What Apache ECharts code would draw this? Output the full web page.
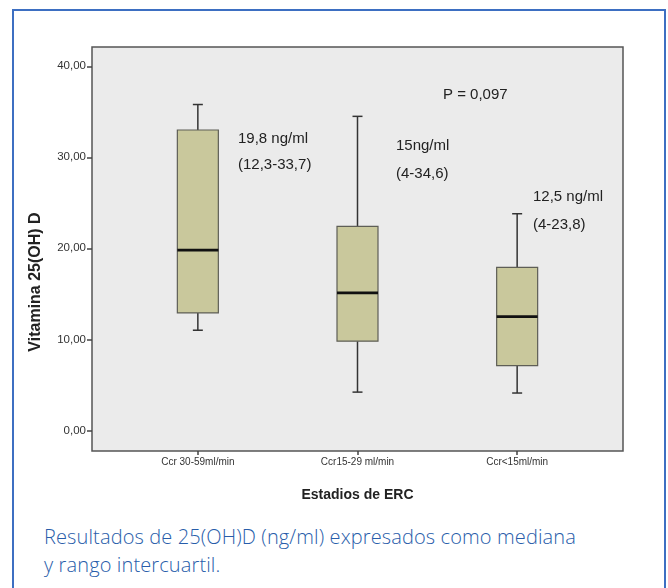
<!DOCTYPE html>
<html>
<head>
<meta charset="utf-8">
<script src="https://cdn.jsdelivr.net/npm/echarts@6/dist/echarts.min.js"></script>
<style>
html,body{margin:0;padding:0;background:#fff;}
#frame{position:absolute;left:12px;top:9px;width:654px;height:600px;border:2px solid #3d6fc2;border-bottom:none;box-sizing:border-box;}
#chart{position:absolute;left:0;top:0;width:668px;height:510px;}
#caption{position:absolute;left:44px;top:523px;font-family:"Open Sans",sans-serif;font-weight:300;font-size:20px;letter-spacing:0.12px;line-height:28px;color:#285daa;}
</style>
</head>
<body>
<div id="frame"></div>
<div id="chart"></div>
<div id="caption">Resultados de 25(OH)D (ng/ml) expresados como mediana<br>y rango intercuartil.</div>
<script>
const categories = ['Ccr 30-59ml/min', 'Ccr15-29 ml/min', 'Ccr<15ml/min'];
const whiskerLow = [11.0, 4.2, 4.1];
const q1 = [12.9, 9.8, 7.1];
const median = [19.8, 15.1, 12.5];
const q3 = [33.0, 22.4, 17.9];
const whiskerHigh = [35.8, 34.5, 23.8];
const yTicks = [0, 10, 20, 30, 40];
const annotations = [
  {text: 'P = 0,097', x: 443, y: 96},
  {text: '19,8 ng/ml', x: 238, y: 140},
  {text: '(12,3-33,7)', x: 238, y: 166},
  {text: '15ng/ml', x: 396, y: 147},
  {text: '(4-34,6)', x: 396, y: 175},
  {text: '12,5 ng/ml', x: 533, y: 198},
  {text: '(4-23,8)', x: 533, y: 226}
];

const boxData = categories.map((c, i) => [i + 1, whiskerLow[i], q1[i], median[i], q3[i], whiskerHigh[i]]);
const FONT = '"Liberation Sans", Arial, sans-serif';

const chart = echarts.init(document.getElementById('chart'), null, {renderer: 'canvas'});
chart.setOption({
  animation: false,
  grid: {left: 92, top: 47, width: 531, height: 404, show: true, backgroundColor: '#ebebeb', borderColor: '#555', borderWidth: 1.5},
  xAxis: {
    type: 'value', min: 0.337, max: 3.663,
    axisLine: {show: false, onZero: false},
    splitLine: {show: false},
    axisTick: {show: true, length: 4, customValues: [1, 2, 3], lineStyle: {color: '#444', width: 1.5}},
    axisLabel: {customValues: [1, 2, 3], formatter: v => categories[Math.round(v) - 1], fontFamily: FONT, fontSize: 10, color: '#333', margin: 6},
    name: 'Estadios de ERC', nameLocation: 'middle', nameGap: 37,
    nameTextStyle: {fontFamily: FONT, fontSize: 14, fontWeight: 'bold', color: '#222'}
  },
  yAxis: {
    type: 'value', min: -2.27, max: 42.12,
    axisLine: {show: false, onZero: false},
    splitLine: {show: false},
    axisTick: {show: true, length: 5, customValues: yTicks, lineStyle: {color: '#444', width: 1.5}},
    axisLabel: {customValues: yTicks, formatter: v => v.toFixed(2).replace('.', ','), fontFamily: FONT, fontSize: 11.5, color: '#333', margin: 6}
  },
  series: [{
    type: 'custom',
    data: boxData,
    encode: {x: 0, y: [1, 2, 3, 4, 5]},
    renderItem: function (params, api) {
      const x = api.value(0);
      const pLow = api.coord([x, api.value(1)]);
      const pQ1 = api.coord([x, api.value(2)]);
      const pMed = api.coord([x, api.value(3)]);
      const pQ3 = api.coord([x, api.value(4)]);
      const pHigh = api.coord([x, api.value(5)]);
      const half = 20.5, cap = 5;
      const cx = pMed[0];
      const wStyle = {stroke: '#333', lineWidth: 1.5, fill: null};
      return {
        type: 'group',
        children: [
          {type: 'line', shape: {x1: cx, y1: pQ3[1], x2: cx, y2: pHigh[1]}, style: wStyle},
          {type: 'line', shape: {x1: cx, y1: pQ1[1], x2: cx, y2: pLow[1]}, style: wStyle},
          {type: 'line', shape: {x1: cx - cap, y1: pHigh[1], x2: cx + cap, y2: pHigh[1]}, style: wStyle},
          {type: 'line', shape: {x1: cx - cap, y1: pLow[1], x2: cx + cap, y2: pLow[1]}, style: wStyle},
          {type: 'rect', shape: {x: cx - half, y: pQ3[1], width: half * 2, height: pQ1[1] - pQ3[1]}, style: {fill: '#c9c89c', stroke: '#5e5e56', lineWidth: 1.2}},
          {type: 'line', shape: {x1: cx - half, y1: pMed[1], x2: cx + half, y2: pMed[1]}, style: {stroke: '#111', lineWidth: 2.8}}
        ]
      };
    }
  }],
  graphic: annotations.map(a => ({
    type: 'text', left: a.x, top: a.y - 9,
    style: {text: a.text, fontFamily: FONT, fontSize: 15, fill: '#222'}
  })).concat([{
    type: 'text', x: 36, y: 282, rotation: Math.PI / 2,
    style: {text: 'Vitamina 25(OH) D', fontFamily: FONT, fontSize: 16, fontWeight: 'bold', fill: '#222', align: 'center', verticalAlign: 'middle'}
  }])
});
</script>
</body>
</html>
